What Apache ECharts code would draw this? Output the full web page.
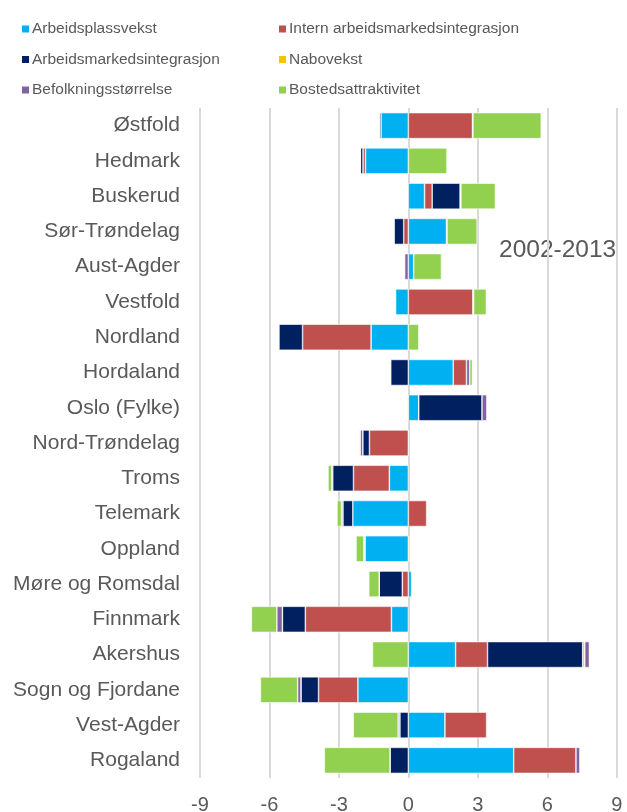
<!DOCTYPE html>
<html><head><meta charset="utf-8">
<script src="https://cdn.jsdelivr.net/npm/echarts@6/dist/echarts.min.js"></script>
<style>html,body{margin:0;padding:0;background:#fff}#c{width:627px;height:812px}</style>
</head><body><div id="c"></div>
<script>
const categories = ['Østfold','Hedmark','Buskerud','Sør-Trøndelag','Aust-Agder','Vestfold','Nordland','Hordaland','Oslo (Fylke)','Nord-Trøndelag','Troms','Telemark','Oppland','Møre og Romsdal','Finnmark','Akershus','Sogn og Fjordane','Vest-Agder','Rogaland'];
const arbeidsplassvekst = [-1.18, -1.85, 0.70, 1.65, 0.23, -0.55, -1.61, 1.94, 0.45, 0, -0.82, -2.40, -1.88, 0.14, -0.73, 2.04, -2.18, 1.58, 4.55];
const internIntegrasjon = [2.77, -0.11, 0.33, -0.20, 0, 2.80, -2.96, 0.57, 0, -1.68, -1.55, 0.79, 0, -0.26, -3.72, 1.38, -1.70, 1.80, 2.69];
const arbeidsmarkedsintegrasjon = [-0.07, -0.11, 1.21, -0.42, 0, 0, -1.02, -0.76, 2.73, -0.29, -0.90, -0.43, 0, -1.00, -0.99, 4.11, -0.76, -0.37, -0.79];
const nabovekst = [0, 0, 0, 0, 0, 0, -0.03, -0.03, -0.04, 0, 0, 0, 0.05, 0, 0, 0.09, 0, 0, 0];
const befolkningsstorrelse = [0.02, 0, 0.03, 0.02, -0.16, 0.02, 0, 0.14, 0.22, -0.11, -0.04, -0.06, -0.04, 0, -0.24, 0.20, -0.14, -0.07, 0.17];
const bostedsattraktivitet = [2.95, 1.67, 1.49, 1.30, 1.20, 0.55, 0.45, 0.12, 0, -0.04, -0.16, -0.19, -0.34, -0.45, -1.10, -1.55, -1.61, -1.94, -2.84];
const xTicks = [-9, -6, -3, 0, 3, 6, 9];
const periodLabel = '2002-2013';

const seriesDefs = [
  ['Arbeidsplassvekst', arbeidsplassvekst, '#00B0F0'],
  ['Intern arbeidsmarkedsintegrasjon', internIntegrasjon, '#C0504D'],
  ['Arbeidsmarkedsintegrasjon', arbeidsmarkedsintegrasjon, '#002060'],
  ['Nabovekst', nabovekst, '#FFC000'],
  ['Befolkningsstørrelse', befolkningsstorrelse, '#8064A2'],
  ['Bostedsattraktivitet', bostedsattraktivitet, '#92D050']
];
const txt = '#595959';
const font = 'Liberation Sans, Arial, sans-serif';
const chart = echarts.init(document.getElementById('c'), null, {renderer:'canvas'});
const legendCommon = {
  orient: 'vertical', itemWidth: 9, itemHeight: 9, itemGap: 10.5, icon: 'rect',
  textStyle: {color: txt, fontSize: 15.5, fontFamily: font, lineHeight: 20, padding: [0,0,0,-3]},
  top: 14
};
chart.setOption({
  animation: false,
  legend: [
    Object.assign({}, legendCommon, {left: 15, data: ['Arbeidsplassvekst','Arbeidsmarkedsintegrasjon','Befolkningsstørrelse']}),
    Object.assign({}, legendCommon, {left: 272, data: ['Intern arbeidsmarkedsintegrasjon','Nabovekst','Bostedsattraktivitet']})
  ],
  grid: {left: 200, right: 10.3, top: 108, bottom: 34, containLabel: false, outerBoundsMode: 'none'},
  xAxis: {
    type: 'value', min: xTicks[0], max: xTicks[xTicks.length-1], interval: 3,
    axisLine: {show: false}, axisTick: {show: false},
    splitLine: {show: true, lineStyle: {color: '#d9d9d9', width: 2}},
    axisLabel: {color: txt, fontSize: 20, fontFamily: font, margin: 17}
  },
  yAxis: {
    type: 'category', data: categories, inverse: true,
    axisLine: {show: false}, axisTick: {show: false},
    axisLabel: {color: txt, fontSize: 21, fontFamily: font, margin: 20}
  },
  graphic: [{type: 'text', left: 499, top: 238, style: {text: periodLabel, fill: txt, fontSize: 24.5, fontFamily: font}}],
  series: seriesDefs.map(([name, data, color]) => ({
    name, type: 'bar', stack: 'total', data, barWidth: 26,
    itemStyle: {color, borderColor: '#ffffff', borderWidth: 0.6}
  }))
});
</script></body></html>
